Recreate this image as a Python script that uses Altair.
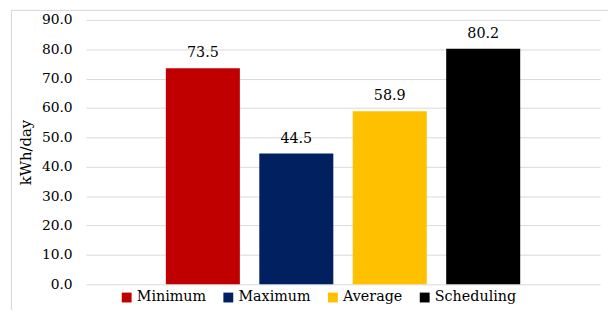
import altair as alt
import pandas as pd

categories = ["Minimum", "Maximum", "Average", "Scheduling"]
values = [73.5, 44.5, 58.9, 80.2]
colors = ["#C00000", "#002060", "#FFC000", "#000000"]
y_ticks = [0, 10, 20, 30, 40, 50, 60, 70, 80, 90]

df = pd.DataFrame({"cat": categories, "val": values})
FONT = "DejaVu Serif"

base = alt.Chart(df).encode(
    x=alt.X("cat:N", sort=categories, axis=None,
            scale=alt.Scale(paddingInner=0.208, paddingOuter=0.855)),
    y=alt.Y("val:Q", scale=alt.Scale(domain=[0, 90], nice=False),
            axis=alt.Axis(values=y_ticks, tickCount=10, format=".1f", title="kWh/day",
                          titlePadding=8, labelPadding=14, labelOverlap=False,
                          ticks=False, domain=False, grid=True)),
)

bars = base.mark_bar().encode(
    color=alt.Color("cat:N", sort=categories,
                    scale=alt.Scale(domain=categories, range=colors),
                    legend=alt.Legend(title=None, orient="none", direction="horizontal",
                                      legendX=34, legendY=274, symbolType="square",
                                      symbolSize=100, symbolStrokeWidth=0,
                                      labelOffset=3, columnPadding=15, padding=0)),
)

labels = base.mark_text(baseline="bottom", dy=-8, color="#000000").encode(
    text=alt.Text("val:Q", format=".1f"))

border = alt.Chart(df).mark_rect(fill=None, stroke="#d9d9d9", strokeWidth=1).encode(
    x=alt.value(-75.5), x2=alt.value(560), y=alt.value(-9.5), y2=alt.value(298.5))

chart = alt.layer(bars, labels, border).properties(
    width=521, height=268,
    autosize=alt.AutoSizeParams(type="none"),
    padding={"left": 79, "top": 10, "right": 8, "bottom": 24},
).configure(
    background="white",
    font=FONT,
).configure_view(
    stroke=None
).configure_axisY(
    labelFont=FONT, labelFontSize=14, labelColor="#000000",
    titleFont=FONT, titleFontSize=15, titleFontWeight="normal", titleColor="#000000",
    gridColor="#d9d9d9", gridWidth=1,
).configure_legend(
    labelFont=FONT, labelFontSize=14.5, labelColor="#000000",
).configure_text(
    font=FONT, fontSize=14.5,
)

chart.save("out.html", embed_options={"renderer": "svg", "actions": False})
